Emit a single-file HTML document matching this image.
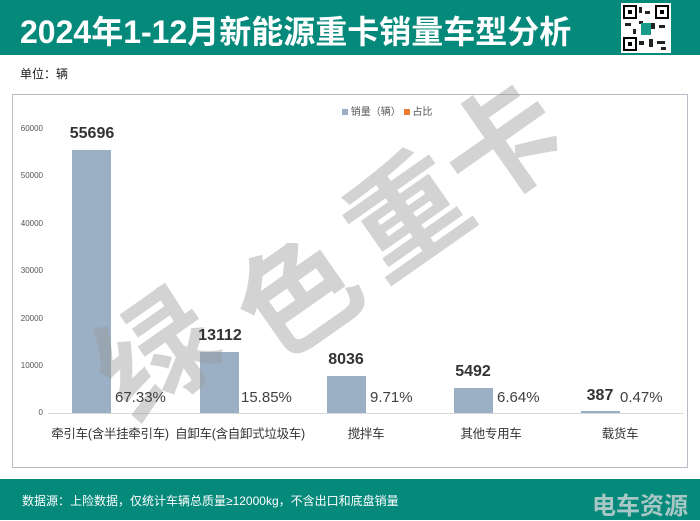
<!DOCTYPE html>
<html><head><meta charset="utf-8"><style>
body{margin:0;width:700px;height:520px;background:#fff;position:relative;overflow:hidden;font-family:"Liberation Sans","Noto Sans CJK SC",sans-serif;}
.a{position:absolute;white-space:nowrap;}
.bar{position:absolute;background:#9bb0c5;width:39px;}
.v{position:absolute;font-weight:bold;font-size:16px;color:#333;width:80px;text-align:center;}
.p{position:absolute;font-size:15px;color:#404040;}
.c{position:absolute;font-size:12.5px;color:#333;width:170px;text-align:center;top:423px;letter-spacing:-0.3px;}
.t{position:absolute;font-size:8px;color:#555;width:40px;text-align:right;left:3px;}
.w{position:absolute;font-size:118px;font-weight:bold;color:rgba(150,150,150,0.42);transform:rotate(-35deg);line-height:1;width:118px;height:118px;text-align:center;}
</style></head><body>
<div class="a" style="left:0;top:0;width:700px;height:55px;background:#05897b;"></div>
<div class="a" style="left:20px;top:7px;font-size:32px;font-weight:bold;color:#fff;">2024年1-12月新能源重卡销量车型分析</div>
<div class="a" style="left:621px;top:3px;width:50px;height:50px;background:#fff;">
<svg width="50" height="50" viewBox="0 0 50 50"><rect x="3" y="3" width="12" height="12" fill="none" stroke="#000" stroke-width="2"/><rect x="35" y="3" width="12" height="12" fill="none" stroke="#000" stroke-width="2"/><rect x="3" y="35" width="12" height="12" fill="none" stroke="#000" stroke-width="2"/><rect x="7" y="7" width="4" height="4"/><rect x="39" y="7" width="4" height="4"/><rect x="7" y="39" width="4" height="4"/><g fill="#222"><rect x="18" y="4" width="3" height="6"/><rect x="24" y="8" width="5" height="3"/><rect x="18" y="18" width="4" height="3"/><rect x="4" y="20" width="6" height="3"/><rect x="30" y="20" width="4" height="6"/><rect x="38" y="22" width="6" height="3"/><rect x="18" y="38" width="5" height="4"/><rect x="28" y="36" width="4" height="8"/><rect x="36" y="38" width="8" height="3"/><rect x="40" y="44" width="5" height="3"/><rect x="12" y="26" width="3" height="5"/></g><rect x="20" y="20" width="10" height="12" fill="#1a9a8a"/></svg></div>
<div class="a" style="left:20px;top:65px;font-size:12px;color:#222;">单位：辆</div>
<div class="a" style="left:12px;top:94px;width:674px;height:372px;border:1px solid #b5bcc5;"></div>
<div class="a" style="left:342px;top:103px;font-size:10px;color:#555;"><span style="display:inline-block;width:6px;height:6px;background:#9bb0c5;"></span> 销量（辆） <span style="display:inline-block;width:6px;height:6px;background:#ed7d31;"></span> 占比</div>
<div class="t" style="top:124px">60000</div>
<div class="t" style="top:171px">50000</div>
<div class="t" style="top:219px">40000</div>
<div class="t" style="top:266px">30000</div>
<div class="t" style="top:314px">20000</div>
<div class="t" style="top:361px">10000</div>
<div class="t" style="top:408px">0</div>
<div class="a" style="left:48px;top:413px;width:636px;height:1px;background:#d9d9d9;"></div>
<div class="bar" style="left:72px;top:150px;height:263px;"></div>
<div class="bar" style="left:200px;top:352px;height:61px;"></div>
<div class="bar" style="left:327px;top:376px;height:37px;"></div>
<div class="bar" style="left:454px;top:388px;height:25px;"></div>
<div class="bar" style="left:581px;top:411px;height:2px;"></div>
<div class="w" style="left:99px;top:298px;">绿</div>
<div class="w" style="left:241px;top:238px;">色</div>
<div class="w" style="left:349px;top:158px;">重</div>
<div class="w" style="left:445px;top:88px;">卡</div>
<div class="v" style="left:52px;top:125px">55696</div>
<div class="v" style="left:180px;top:327px">13112</div>
<div class="v" style="left:306px;top:351px">8036</div>
<div class="v" style="left:433px;top:363px">5492</div>
<div class="v" style="left:575px;top:387px;width:50px;">387</div>
<div class="p" style="left:115px;top:389px">67.33%</div>
<div class="p" style="left:241px;top:389px">15.85%</div>
<div class="p" style="left:370px;top:389px">9.71%</div>
<div class="p" style="left:497px;top:389px">6.64%</div>
<div class="p" style="left:620px;top:389px">0.47%</div>
<div class="c" style="left:25px">牵引车(含半挂牵引车)</div>
<div class="c" style="left:155px">自卸车(含自卸式垃圾车)</div>
<div class="c" style="left:281px">搅拌车</div>
<div class="c" style="left:406px">其他专用车</div>
<div class="c" style="left:535px">载货车</div>
<div class="a" style="left:0;top:479px;width:700px;height:41px;background:#05897b;"></div>
<div class="a" style="left:22px;top:492px;font-size:12px;color:#fff;">数据源：上险数据，仅统计车辆总质量≥12000kg，不含出口和底盘销量</div>
<div class="a" style="left:592px;top:486px;font-size:24px;font-weight:bold;color:rgba(220,220,220,0.75);">电车资源</div>
</body></html>
